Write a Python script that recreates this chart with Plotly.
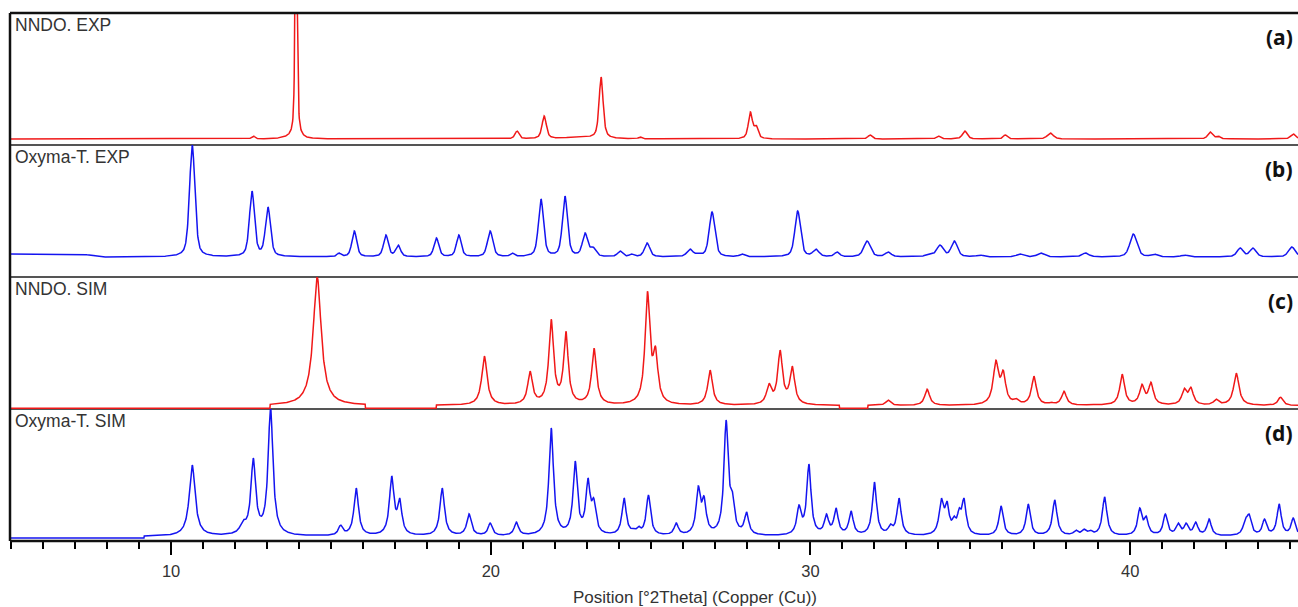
import numpy as np
import plotly.graph_objects as go
from plotly.subplots import make_subplots

X_MIN, X_MAX = 4.96, 45.25

panel_labels = ["NNDO. EXP", "Oxyma-T. EXP", "NNDO. SIM", "Oxyma-T. SIM"]
panel_tags = ["(a)", "(b)", "(c)", "(d)"]
x_title = "Position [°2Theta] (Copper (Cu))"

# ---- (a) NNDO experimental: peak position (deg 2theta), height, FWHM ----
a_pos = [12.57, 13.70, 13.91, 20.82, 21.67, 22.80, 23.45, 24.67, 28.12, 28.30, 31.86, 34.00, 34.83, 36.09, 37.50, 42.50, 42.75, 45.10]
a_h   = [3, 6, 300, 8, 23, 2, 62, 2, 27, 14, 4, 3, 8, 4, 6, 7, 3, 5]
a_w   = [0.12, 0.55, 0.07, 0.15, 0.16, 1.3, 0.15, 0.12, 0.15, 0.15, 0.15, 0.15, 0.18, 0.15, 0.22, 0.17, 0.15, 0.18]
a_bg_x = [4.96, 45.25]
a_bg_y = [6, 6]

# ---- (b) Oxyma-T experimental ----
b_pos = [10.66, 12.53, 13.03, 15.25, 15.73, 16.72, 17.10, 18.30, 19.00, 19.98, 20.67, 21.57, 22.32, 22.95, 23.20,
         24.04, 24.40, 24.89, 26.23, 26.50, 26.92, 27.86, 29.60, 30.17, 30.83, 31.77, 32.43, 33.70, 34.05, 34.50,
         35.30, 36.55, 37.20, 38.60, 40.10, 40.75, 41.70, 43.44, 43.84, 45.06]
b_h   = [112, 66, 50, 4, 26, 22, 12, 19, 22, 26, 4, 58, 61, 24, 10,
         6, 3, 14, 8, 4, 45, 3, 46, 8, 5, 16, 5, 3, 12, 16,
         2, 3, 4, 4, 23, 3, 2, 9, 9, 10]
b_w   = [0.20, 0.19, 0.19, 0.15, 0.18, 0.18, 0.18, 0.18, 0.18, 0.20, 0.15, 0.19, 0.19, 0.20, 0.20,
         0.18, 0.15, 0.20, 0.22, 0.19, 0.21, 0.19, 0.21, 0.22, 0.19, 0.25, 0.22, 0.25, 0.25, 0.23,
         0.25, 0.25, 0.25, 0.25, 0.26, 0.25, 0.25, 0.23, 0.23, 0.25]
b_bg_x = [4.96, 7.3, 7.8, 45.25]
b_bg_y = [23, 22.5, 20, 20]

# ---- (c) NNDO simulated ----
c_pos = [14.57, 19.80, 21.23, 21.89, 22.35, 23.23, 24.90, 25.15, 26.86, 28.70, 29.05, 29.43, 32.43, 33.65,
         35.80, 36.03, 36.43, 36.99, 37.53, 37.93, 38.75, 39.75, 40.37, 40.65, 41.69, 41.90, 42.69, 43.32, 44.70]
c_h   = [131, 52, 37, 89, 77, 60, 117, 62, 38, 25, 58, 42, 8, 19,
         48, 38, 10, 32, 6, 17, 4, 34, 24, 26, 20, 21, 9, 35, 11]
c_w   = [0.30, 0.20, 0.18, 0.18, 0.17, 0.18, 0.18, 0.18, 0.18, 0.18, 0.18, 0.18, 0.18, 0.18,
         0.20, 0.18, 0.18, 0.18, 0.18, 0.18, 0.18, 0.18, 0.18, 0.18, 0.18, 0.18, 0.18, 0.20, 0.18]
c_win_start = [13.10, 18.30, 31.80]
c_win_end   = [16.07, 30.90, 45.50]
c_base, c_offset = 0.8, 2.5

# ---- (d) Oxyma-T simulated ----
d_pos = [10.66, 12.25, 12.57, 13.11, 15.30, 15.79, 16.90, 17.15, 18.48, 19.32, 19.98, 20.80, 21.89, 22.64, 23.04,
         23.22, 24.17, 24.45, 24.62, 24.93, 25.80, 26.49, 26.67, 27.36, 27.55, 28.00, 29.64, 29.95, 30.50, 30.80,
         31.27, 32.00, 32.50, 32.77, 34.09, 34.27, 34.49, 34.65, 34.80, 35.96, 36.81, 37.64, 38.30, 38.55, 38.75,
         39.20, 40.30, 40.50, 41.10, 41.50, 41.75, 42.05, 42.47, 43.60, 43.72, 44.20, 44.66, 45.10]
d_h   = [73, 18, 80, 131, 13, 50, 62, 40, 50, 24, 15, 16, 110, 77, 60,
         40, 40, 10, 12, 43, 15, 52, 42, 118, 48, 26, 33, 74, 24, 30,
         27, 56, 14, 40, 40, 37, 22, 30, 40, 32, 34, 38, 8, 9, 8,
         41, 30, 22, 24, 15, 15, 16, 19, 20, 24, 19, 34, 20]
d_w   = [0.22, 0.22, 0.18, 0.18, 0.16, 0.17, 0.17, 0.16, 0.17, 0.17, 0.16, 0.16, 0.17, 0.16, 0.16,
         0.16, 0.16, 0.14, 0.14, 0.16, 0.16, 0.16, 0.16, 0.16, 0.16, 0.16, 0.16, 0.16, 0.16, 0.16,
         0.16, 0.16, 0.16, 0.16, 0.16, 0.16, 0.14, 0.14, 0.16, 0.16, 0.16, 0.17, 0.16, 0.16, 0.16,
         0.17, 0.16, 0.16, 0.16, 0.16, 0.16, 0.16, 0.16, 0.16, 0.16, 0.16, 0.16, 0.16]
d_win_start = [9.16]
d_win_end   = [45.50]
d_base, d_offset = 3.0, 1.5

RED = "#f01818"
BLUE = "#1414f0"


def profile(x, pos, fwhm, eta):
    g = fwhm / 2.0
    lor = g * g / ((x - pos) ** 2 + g * g)
    sig = fwhm / 2.3548
    gau = np.exp(-0.5 * ((x - pos) / sig) ** 2)
    return eta * lor + (1 - eta) * gau


def peaks_sum(x, pos, h, w, eta):
    pos = np.asarray(pos, float); h = np.asarray(h, float); w = np.asarray(w, float)
    A = np.array([[profile(pi, pj, wj, eta) for pj, wj in zip(pos, w)] for pi in pos])
    amp = h.copy()
    for _ in range(300):
        amp = np.clip(amp + 0.5 * (h - A @ amp), 0, None)
    y = np.zeros_like(x)
    for p, a, ww in zip(pos, amp, w):
        y += a * profile(x, p, ww, eta)
    return y


x = np.round(np.arange(X_MIN, X_MAX + 0.005, 0.01), 3)

ya = np.interp(x, a_bg_x, a_bg_y) + peaks_sum(x, a_pos, a_h, a_w, 0.6)
yb = np.interp(x, b_bg_x, b_bg_y) + peaks_sum(x, b_pos, b_h, b_w, 0.5)


def sim(x, pos, h, w, ws, we, base, off):
    inside = np.zeros_like(x, dtype=bool)
    for s, e in zip(ws, we):
        inside |= (x >= s) & (x <= e)
    pk = peaks_sum(x, pos, np.asarray(h, float) - off, w, 1.0)
    return np.where(inside, base + off + pk, base)


yc = sim(x, c_pos, c_h, c_w, c_win_start, c_win_end, c_base, c_offset)
yd = sim(x, d_pos, d_h, d_w, d_win_start, d_win_end, d_base, d_offset)

fig = make_subplots(rows=4, cols=1, shared_xaxes=True, vertical_spacing=0)
for i, (yy, col) in enumerate([(ya, RED), (yb, BLUE), (yc, RED), (yd, BLUE)]):
    fig.add_trace(go.Scatter(x=x, y=yy, mode="lines", line=dict(color=col, width=1.5),
                             showlegend=False, hoverinfo="skip"), row=i + 1, col=1)

for r in range(1, 5):
    fig.update_yaxes(range=[0, 132], showticklabels=False, showgrid=False, zeroline=False,
                     showline=False, ticks="", row=r, col=1)
    fig.update_xaxes(range=[X_MIN, X_MAX], showgrid=False, zeroline=False, showline=False,
                     row=r, col=1)
for r in range(1, 4):
    fig.update_xaxes(showticklabels=False, ticks="", row=r, col=1)

fig.update_xaxes(row=4, col=1, tickmode="linear", tick0=0, dtick=10, ticks="outside",
                 ticklen=13, tickwidth=1.5, tickcolor="black", ticklabelstandoff=2,
                 tickfont=dict(family="Liberation Sans", size=16.5, color="#333"),
                 minor=dict(dtick=1, ticks="outside", ticklen=7, tickwidth=1.5, tickcolor="black"))

H = 528.0
shapes = [
    dict(type="line", xref="paper", yref="paper", x0=0, x1=1, y0=0.25, y1=0.25,
         line=dict(color="#555", width=2), layer="below"),
    dict(type="line", xref="paper", yref="paper", x0=0, x1=1, y0=0.5, y1=0.5,
         line=dict(color="#555", width=2), layer="below"),
    dict(type="line", xref="paper", yref="paper", x0=0, x1=1, y0=0.75, y1=0.75,
         line=dict(color="#555", width=2), layer="below"),
    dict(type="line", xref="paper", yref="paper", x0=0, x1=1, y0=1, y1=1,
         line=dict(color="#111", width=2.5), layer="above"),
    dict(type="line", xref="paper", yref="paper", x0=0, x1=1, y0=0, y1=0,
         line=dict(color="#111", width=2.5), layer="above"),
    dict(type="line", xref="paper", yref="paper", x0=0, x1=0, y0=0, y1=1,
         line=dict(color="#111", width=2.5), layer="above"),
]

annotations = []
for i in range(4):
    top = 1 - i * 0.25
    annotations.append(dict(xref="paper", yref="paper", x=0, y=top, xanchor="left", yanchor="top",
                            xshift=3, yshift=0, showarrow=False, text=panel_labels[i],
                            font=dict(family="Liberation Sans", size=17.5, color="#333")))
    annotations.append(dict(xref="paper", yref="paper", x=1, y=top - 24 / H, xanchor="right",
                            yanchor="middle", xshift=-3, showarrow=False, text="<b>" + panel_tags[i] + "</b>",
                            font=dict(family="Noto Sans", size=21, color="#111")))
# x-axis title (the original figure is cropped on the right, so it sits right of centre)
annotations.append(dict(xref="paper", yref="paper", x=(695 - 10) / 1288, y=-56 / H,
                        xanchor="center", yanchor="middle", showarrow=False, text=x_title,
                        font=dict(family="Liberation Sans", size=17, color="#333")))

fig.update_layout(width=1298, height=607, margin=dict(l=10, r=0, t=13, b=66),
                  paper_bgcolor="white", plot_bgcolor="white",
                  shapes=shapes, annotations=annotations)

fig.write_html("out.html")
